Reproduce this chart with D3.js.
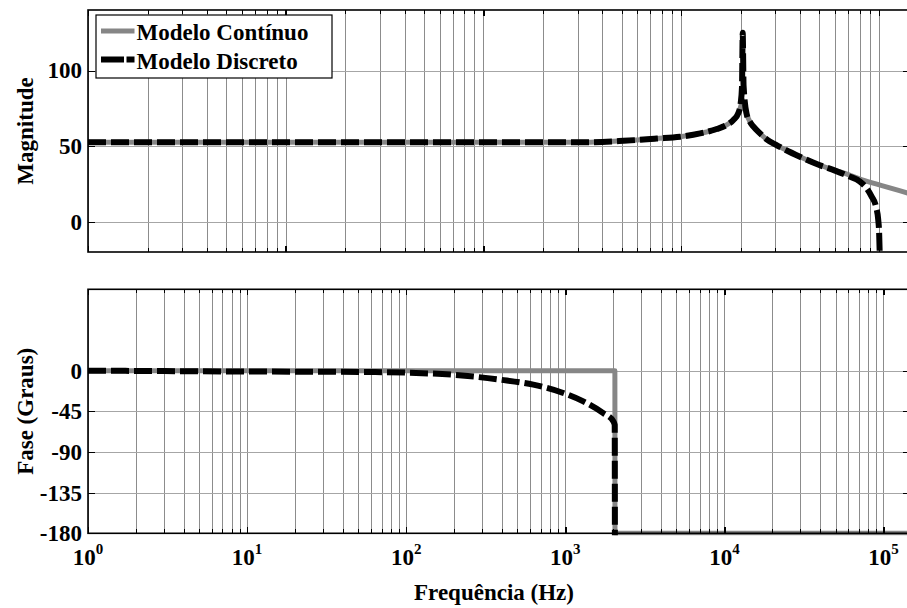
<!DOCTYPE html>
<html>
<head>
<meta charset="utf-8">
<script src="https://cdn.jsdelivr.net/npm/d3@7"></script>
<style>
  body { margin: 0; background: #fff; }
  svg { display: block; font-family: "Liberation Serif", "Times New Roman", serif; font-weight: bold; }
  .grid line { stroke: #8c8c8c; stroke-width: 1; shape-rendering: crispEdges; }
  .grid path { display: none; }
  .ticks path { display: none; }
  .ticks line { stroke: #000; shape-rendering: crispEdges; }
</style>
</head>
<body>
<script>
// magnitude (top panel), frequency in Hz
var magContFreq = [1, 10, 100, 346, 510, 753, 987, 1247, 1514, 1701, 1838, 1946, 2001, 2032, 2049, 2070, 2147, 2231, 2318, 2506, 2710, 3008, 3991, 4998, 6008, 7015, 8035, 9675, 14380];
var magCont     = [52.5, 52.5, 52.5, 52.6, 53.5, 55.0, 56.2, 58.4, 61.3, 64.0, 67.3, 71.7, 76.0, 79.5, 80.5, 78.0, 71.0, 66.0, 63.0, 58.4, 54.5, 51.0, 43.0, 37.5, 34.0, 31.2, 28.2, 25.0, 18.6];
var magDiscFreq = [1, 10, 100, 346, 510, 753, 987, 1247, 1514, 1701, 1838, 1946, 2001, 2032, 2049, 2070, 2147, 2231, 2318, 2506, 2710, 3008, 3991, 4998, 6008, 7015, 8035, 8687, 9202, 9675, 9935, 10040, 10140];
var magDisc     = [52.5, 52.5, 52.5, 52.6, 53.5, 55.0, 56.2, 58.4, 61.3, 64.0, 67.3, 71.7, 78.3, 89.0, 125, 90.0, 71.0, 66.0, 63.0, 58.4, 54.5, 51.0, 43.0, 37.5, 33.8, 30.2, 26.5, 22.1, 16.6, 10.0, 1.2, -7.5, -30];

// phase (bottom panel), degrees
var phaseContFreq = [1, 2050, 2053, 146800];
var phaseCont     = [0, 0, -180, -180];
var phaseDiscFreq = [1, 3, 10, 30, 60, 98, 198, 389, 629, 971, 1298, 1733, 2003, 2045, 2050];
var phaseDisc     = [0, -0.5, -1, -1.2, -1.5, -2.2, -4.6, -10, -15.5, -24.7, -34, -47, -56, -60, -183];

var magTicks = [0, 50, 100];
var phaseTicks = [0, -45, -90, -135, -180];
var decades = [1, 10, 100, 1000, 10000, 100000];
var seriesNames = ["Modelo Contínuo", "Modelo Discreto"];

var W = 907, H = 608;
var left = 88, right = 910;
var top1 = 10, bot1 = 252, top2 = 289.3, bot2 = 533.3;

var xTop = d3.scaleLog().domain([1, 14380]).range([left, right]);
var xBot = d3.scaleLog().domain([1, 146800]).range([left, right]);
var yMag = d3.scaleLinear().domain([-20, 140]).range([bot1, top1]);
var yPh = d3.scaleLinear().domain([-180, 90]).range([bot2, top2]);

var svg = d3.select("body").append("svg")
    .attr("width", W)
    .attr("height", H);

var defs = svg.append("defs");
defs.append("clipPath").attr("id", "clipTop")
    .append("rect").attr("x", left).attr("y", top1).attr("width", right - left).attr("height", bot1 - top1);
defs.append("clipPath").attr("id", "clipBot")
    .append("rect").attr("x", left).attr("y", top2).attr("width", right - left).attr("height", bot2 - top2 + 2);

function isDecade(d) {
    return Math.abs(Math.log10(d) - Math.round(Math.log10(d))) < 1e-9;
}

function panel(x, y, yt, ptop, pbot, clipId, series) {
    var h = pbot - ptop, w = right - left;
    var xt = x.ticks();

    // vertical grid
    svg.append("g").attr("class", "grid")
        .attr("transform", "translate(0," + pbot + ")")
        .call(d3.axisBottom(x).tickValues(xt).tickSize(-h).tickFormat(""));
    // horizontal grid
    svg.append("g").attr("class", "grid")
        .attr("transform", "translate(" + left + ",0)")
        .call(d3.axisLeft(y).tickValues(yt).tickSize(-w).tickFormat(""))
        .selectAll("line").style("stroke", "#a6a6a6");

    // data lines
    var g = svg.append("g").attr("clip-path", "url(#" + clipId + ")");
    series.forEach(function (s) {
        var line = d3.line()
            .x(function (d) { return x(d[0]); })
            .y(function (d) { return y(d[1]); })
            .curve(s.curve);
        g.append("path")
            .datum(d3.zip(s.f, s.v))
            .attr("d", line)
            .attr("fill", "none")
            .attr("stroke", s.color)
            .attr("stroke-width", s.width)
            .attr("stroke-dasharray", s.dash)
            .attr("stroke-linejoin", "round");
    });

    // inward ticks on all sides
    [[d3.axisBottom, pbot], [d3.axisTop, ptop]].forEach(function (a) {
        var ax = svg.append("g").attr("class", "ticks")
            .attr("transform", "translate(0," + a[1] + ")")
            .call(a[0](x).tickValues(xt).tickSize(-4).tickFormat(""));
        ax.selectAll(".tick line")
            .attr("y2", function (d) { return (a[0] === d3.axisBottom ? -1 : 1) * (isDecade(d) ? 6 : 4); })
            .style("stroke-width", function (d) { return isDecade(d) ? 1.5 : 1; });
    });
    svg.append("g").attr("class", "ticks")
        .attr("transform", "translate(" + left + ",0)")
        .call(d3.axisLeft(y).tickValues(yt).tickSize(-7).tickPadding(6)
            .tickFormat(function (d) { return String(d); }))
        .selectAll("text")
        .style("font-family", "Liberation Serif, Times New Roman, serif")
        .style("font-weight", "bold")
        .style("font-size", "23px")
        .attr("fill", "#000");
    svg.append("g").attr("class", "ticks")
        .attr("transform", "translate(" + right + ",0)")
        .call(d3.axisRight(y).tickValues(yt).tickSize(-7).tickFormat(""));

    // box
    svg.append("rect")
        .attr("x", left).attr("y", ptop)
        .attr("width", w).attr("height", h)
        .attr("fill", "none").attr("stroke", "#000").attr("stroke-width", 1.6);
}

var gray = "#868686";

panel(xTop, yMag, magTicks, top1, bot1, "clipTop", [
    {f: magContFreq, v: magCont, color: gray, width: 5, dash: null, curve: d3.curveMonotoneX},
    {f: magDiscFreq, v: magDisc, color: "#000", width: 6, dash: "18,5", curve: d3.curveMonotoneX}
]);

panel(xBot, yPh, phaseTicks, top2, bot2, "clipBot", [
    {f: phaseContFreq, v: phaseCont, color: gray, width: 5, dash: null, curve: d3.curveLinear},
    {f: phaseDiscFreq, v: phaseDisc, color: "#000", width: 6, dash: "18,5", curve: d3.curveMonotoneX}
]);

// x tick labels, 10^n
var lab = svg.append("g")
    .attr("font-size", "23px")
    .attr("text-anchor", "middle");
decades.forEach(function (d, i) {
    var t = lab.append("text")
        .attr("x", xBot(d))
        .attr("y", 565);
    t.append("tspan").text("10");
    t.append("tspan").attr("dy", -11).attr("font-size", "15px").text(i);
});

// axis titles
svg.append("text")
    .attr("transform", "translate(33," + (top1 + bot1) / 2 + ") rotate(-90)")
    .attr("text-anchor", "middle")
    .attr("font-size", "23px")
    .text("Magnitude");
svg.append("text")
    .attr("transform", "translate(33," + (top2 + bot2) / 2 + ") rotate(-90)")
    .attr("text-anchor", "middle")
    .attr("font-size", "23px")
    .text("Fase (Graus)");
svg.append("text")
    .attr("x", 494)
    .attr("y", 600)
    .attr("text-anchor", "middle")
    .attr("font-size", "23px")
    .text("Frequência (Hz)");

// legend
var leg = svg.append("g");
leg.append("rect")
    .attr("x", 96).attr("y", 15)
    .attr("width", 236).attr("height", 63)
    .attr("fill", "#fff").attr("stroke", "#000").attr("stroke-width", 1.2);
var legStyles = [
    {color: gray, width: 5, dash: null},
    {color: "#000", width: 6, dash: "23,2.5"}
];
seriesNames.forEach(function (name, i) {
    var yy = 31 + i * 28.5;
    leg.append("line")
        .attr("x1", 101).attr("x2", 134.5)
        .attr("y1", yy).attr("y2", yy)
        .attr("stroke", legStyles[i].color)
        .attr("stroke-width", legStyles[i].width)
        .attr("stroke-dasharray", legStyles[i].dash);
    leg.append("text")
        .attr("x", 136.5)
        .attr("y", yy + 9)
        .attr("font-size", "23px")
        .text(name);
});
</script>
</body>
</html>
